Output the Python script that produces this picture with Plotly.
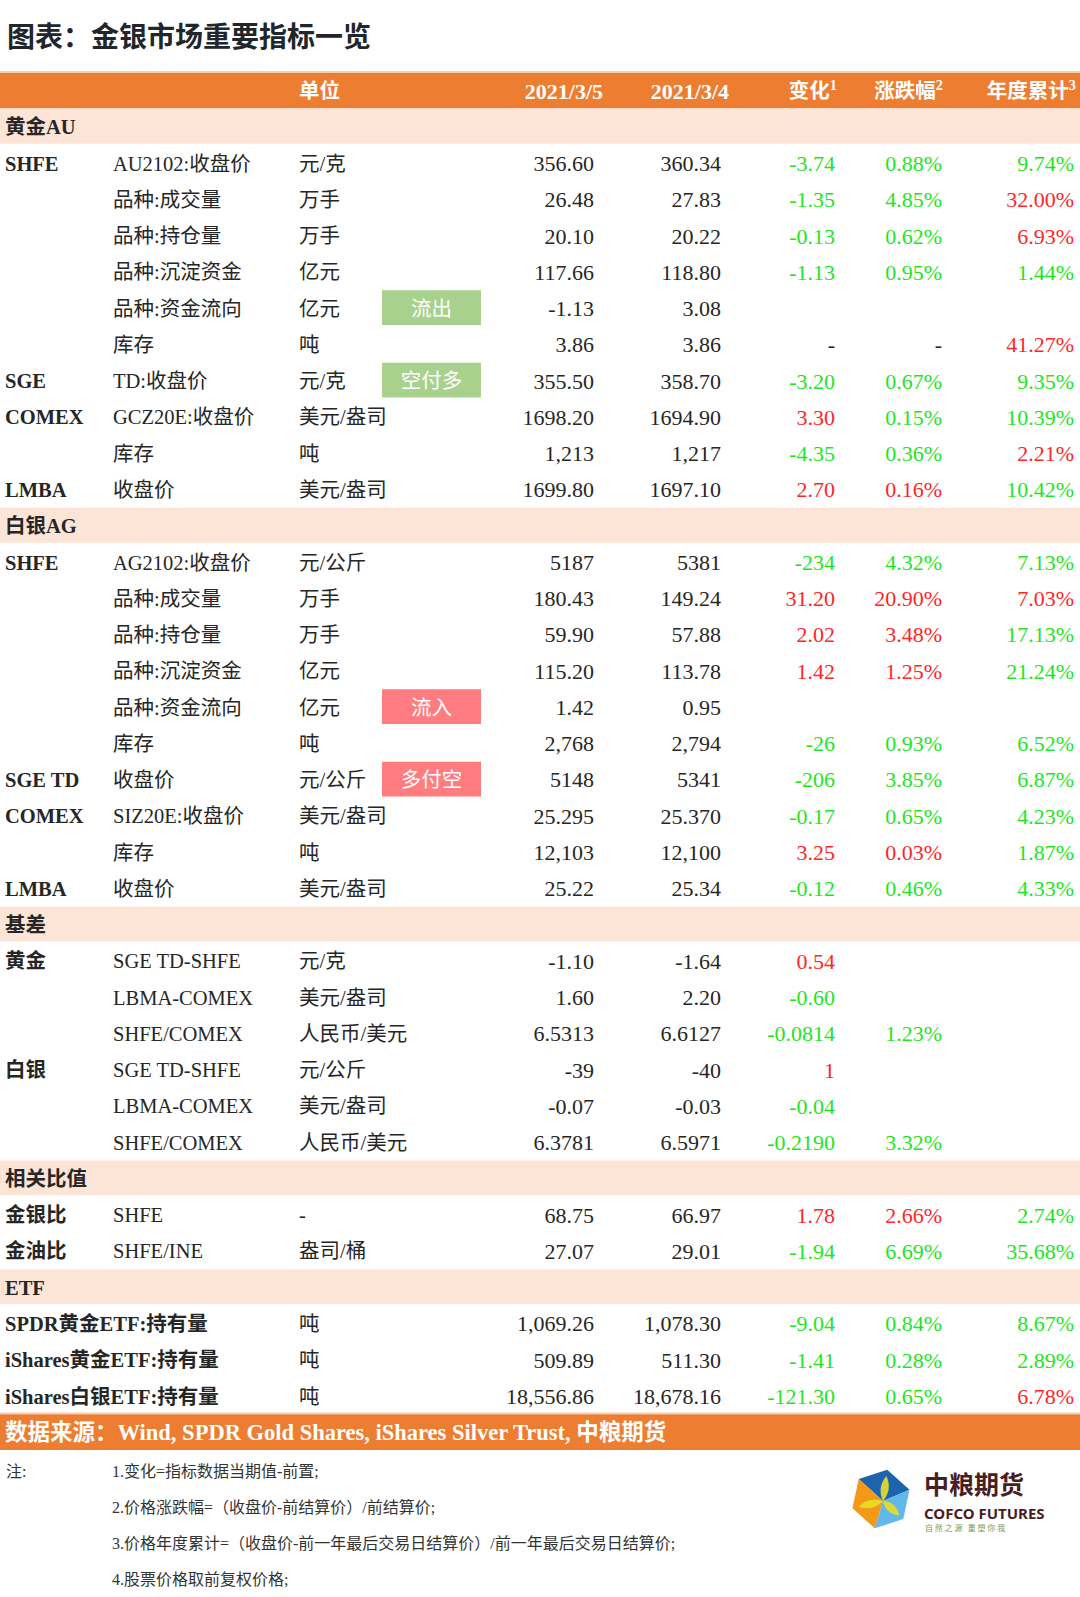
import math
import plotly.graph_objects as go

# ---------------- data ----------------
header_labels = ["", "", "单位", "", "2021/3/5", "2021/3/4",
                 "变化<sup>1</sup>", "涨跌幅<sup>2</sup>", "年度累计<sup>3</sup>"]

sections = ["黄金AU", "白银AG", "基差", "相关比值", "ETF"]
section_len = [10, 10, 6, 2, 3]

exchange = ["SHFE", "", "", "", "", "", "SGE", "COMEX", "", "LMBA",
            "SHFE", "", "", "", "", "", "SGE TD", "COMEX", "", "LMBA",
            "黄金", "", "", "白银", "", "",
            "金银比", "金油比",
            "SPDR黄金ETF:持有量", "iShares黄金ETF:持有量", "iShares白银ETF:持有量"]
item = ["AU2102:收盘价", "品种:成交量", "品种:持仓量", "品种:沉淀资金", "品种:资金流向", "库存",
        "TD:收盘价", "GCZ20E:收盘价", "库存", "收盘价",
        "AG2102:收盘价", "品种:成交量", "品种:持仓量", "品种:沉淀资金", "品种:资金流向", "库存",
        "收盘价", "SIZ20E:收盘价", "库存", "收盘价",
        "SGE TD-SHFE", "LBMA-COMEX", "SHFE/COMEX", "SGE TD-SHFE", "LBMA-COMEX", "SHFE/COMEX",
        "SHFE", "SHFE/INE",
        "", "", ""]
unit = ["元/克", "万手", "万手", "亿元", "亿元", "吨", "元/克", "美元/盎司", "吨", "美元/盎司",
        "元/公斤", "万手", "万手", "亿元", "亿元", "吨", "元/公斤", "美元/盎司", "吨", "美元/盎司",
        "元/克", "美元/盎司", "人民币/美元", "元/公斤", "美元/盎司", "人民币/美元",
        "-", "盎司/桶",
        "吨", "吨", "吨"]
signal = ["", "", "", "", "流出", "", "空付多", "", "", "",
          "", "", "", "", "流入", "", "多付空", "", "", "",
          "", "", "", "", "", "",
          "", "",
          "", "", ""]
val_0305 = ["356.60", "26.48", "20.10", "117.66", "-1.13", "3.86", "355.50", "1698.20", "1,213", "1699.80",
            "5187", "180.43", "59.90", "115.20", "1.42", "2,768", "5148", "25.295", "12,103", "25.22",
            "-1.10", "1.60", "6.5313", "-39", "-0.07", "6.3781",
            "68.75", "27.07",
            "1,069.26", "509.89", "18,556.86"]
val_0304 = ["360.34", "27.83", "20.22", "118.80", "3.08", "3.86", "358.70", "1694.90", "1,217", "1697.10",
            "5381", "149.24", "57.88", "113.78", "0.95", "2,794", "5341", "25.370", "12,100", "25.34",
            "-1.64", "2.20", "6.6127", "-40", "-0.03", "6.5971",
            "66.97", "29.01",
            "1,078.30", "511.30", "18,678.16"]
change = ["-3.74", "-1.35", "-0.13", "-1.13", "", "-", "-3.20", "3.30", "-4.35", "2.70",
          "-234", "31.20", "2.02", "1.42", "", "-26", "-206", "-0.17", "3.25", "-0.12",
          "0.54", "-0.60", "-0.0814", "1", "-0.04", "-0.2190",
          "1.78", "-1.94",
          "-9.04", "-1.41", "-121.30"]
change_tone = ["g", "g", "g", "g", "", "k", "g", "r", "g", "r",
               "g", "r", "r", "r", "", "g", "g", "g", "r", "g",
               "r", "g", "g", "r", "g", "g",
               "r", "g",
               "g", "g", "g"]
pct = ["0.88%", "4.85%", "0.62%", "0.95%", "", "-", "0.67%", "0.15%", "0.36%", "0.16%",
       "4.32%", "20.90%", "3.48%", "1.25%", "", "0.93%", "3.85%", "0.65%", "0.03%", "0.46%",
       "", "", "1.23%", "", "", "3.32%",
       "2.66%", "6.69%",
       "0.84%", "0.28%", "0.65%"]
pct_tone = ["g", "g", "g", "g", "", "k", "g", "g", "g", "r",
            "g", "r", "r", "r", "", "g", "g", "g", "r", "g",
            "", "", "g", "", "", "g",
            "r", "g",
            "g", "g", "g"]
ytd = ["9.74%", "32.00%", "6.93%", "1.44%", "", "41.27%", "9.35%", "10.39%", "2.21%", "10.42%",
       "7.13%", "7.03%", "17.13%", "21.24%", "", "6.52%", "6.87%", "4.23%", "1.87%", "4.33%",
       "", "", "", "", "", "",
       "2.74%", "35.68%",
       "8.67%", "2.89%", "6.78%"]
ytd_tone = ["g", "r", "r", "g", "", "r", "g", "g", "r", "g",
            "g", "r", "g", "g", "", "g", "g", "g", "g", "g",
            "", "", "", "", "", "",
            "g", "g",
            "g", "g", "r"]

title = "图表：金银市场重要指标一览"
source_text = "数据来源：Wind, SPDR Gold Shares, iShares Silver Trust, 中粮期货"
notes = ["1.变化=指标数据当期值-前置;",
         "2.价格涨跌幅=（收盘价-前结算价）/前结算价;",
         "3.价格年度累计=（收盘价-前一年最后交易日结算价）/前一年最后交易日结算价;",
         "4.股票价格取前复权价格;"]

# ---------------- style ----------------
FONT = "Liberation Serif, Noto Sans CJK SC, serif"
ORANGE = "#ED7D31"
PEACH = "#FCE4D6"
BOX_GREEN = "#A9D18E"
BOX_PINK = "#FF7C80"
TXT = "#262626"
TONE = {"g": "#1ee61e", "r": "#ff2626", "k": TXT, "": TXT}
SIGNAL_FILL = {"流出": BOX_GREEN, "空付多": BOX_GREEN, "流入": BOX_PINK, "多付空": BOX_PINK}

W, H = 1080, 1597
TOP_PX, ROW_PX = 72.0, 36.26        # table top and row height (page px)
X_EXCH, X_ITEM, X_UNIT = 5, 113, 299
BOX_X0, BOX_X1 = 382, 481
X_R = [594, 721, 835, 942, 1074]     # right edges of numeric columns
X_R_HEAD = [603, 729, 837, 943, 1076]
FS_TXT, FS_NUM, FS_HEAD_NUM, FS_SRC = 20.5, 22, 22, 22.5
TEXT_DY = 0.08                       # small downward nudge of text baseline (rows)

# ---------------- row layout ----------------
sec_rows, data_rows = [], []
r = 1
for n in section_len:
    sec_rows.append(r)
    r += 1
    data_rows.extend(range(r, r + n))
    r += n
source_row = r

fig = go.Figure()
shapes = []

# header & source bars
for rr in (0, source_row):
    shapes.append(dict(type="rect", xref="x", yref="y", x0=0, x1=W, y0=rr, y1=rr + 1,
                       fillcolor=ORANGE, line=dict(width=0), layer="below"))
    shapes.append(dict(type="line", xref="x", yref="y", x0=0, x1=W, y0=rr, y1=rr,
                       line=dict(color="#F8CBAD", width=2), layer="below"))
# section bands
for rr in sec_rows:
    shapes.append(dict(type="rect", xref="x", yref="y", x0=0, x1=W, y0=rr + 0.02, y1=rr + 0.98,
                       fillcolor=PEACH, line=dict(width=0), layer="below"))
# signal boxes
for rr, s in zip(data_rows, signal):
    if s:
        shapes.append(dict(type="rect", xref="x", yref="y", x0=BOX_X0, x1=BOX_X1,
                           y0=rr + 0.02, y1=rr + 0.98,
                           fillcolor=SIGNAL_FILL[s], line=dict(width=0), layer="below"))


def text_trace(x, rows, texts, pos, colors, size, bold=False):
    if isinstance(colors, str):
        colors = [colors] * len(texts)
    keep = [i for i, s in enumerate(texts) if s]
    t = [("<b>%s</b>" % texts[i]) if bold else texts[i] for i in keep]
    return go.Scatter(x=[x] * len(keep), y=[rows[i] + 0.5 + TEXT_DY for i in keep],
                      text=t, mode="text", textposition=pos,
                      textfont=dict(family=FONT, size=size, color=[colors[i] for i in keep]),
                      hoverinfo="skip", showlegend=False, cliponaxis=False)


# header
fig.add_trace(text_trace(X_UNIT, [0], [header_labels[2]], "middle right", "white", FS_TXT, True))
for k in range(5):
    fs = FS_HEAD_NUM if k < 2 else FS_TXT
    fig.add_trace(text_trace(X_R_HEAD[k], [0], [header_labels[4 + k]], "middle left", "white", fs, True))

# section titles
fig.add_trace(text_trace(X_EXCH, sec_rows, sections, "middle right", TXT, FS_TXT, True))

# body
fig.add_trace(text_trace(X_EXCH, data_rows, exchange, "middle right", TXT, FS_TXT, True))
fig.add_trace(text_trace(X_ITEM, data_rows, item, "middle right", TXT, FS_TXT))
fig.add_trace(text_trace(X_UNIT, data_rows, unit, "middle right", TXT, FS_TXT))
fig.add_trace(text_trace((BOX_X0 + BOX_X1) / 2, data_rows, signal, "middle center", "white", FS_TXT))
fig.add_trace(text_trace(X_R[0], data_rows, val_0305, "middle left", TXT, FS_NUM))
fig.add_trace(text_trace(X_R[1], data_rows, val_0304, "middle left", TXT, FS_NUM))
fig.add_trace(text_trace(X_R[2], data_rows, change, "middle left", [TONE[c] for c in change_tone], FS_NUM))
fig.add_trace(text_trace(X_R[3], data_rows, pct, "middle left", [TONE[c] for c in pct_tone], FS_NUM))
fig.add_trace(text_trace(X_R[4], data_rows, ytd, "middle left", [TONE[c] for c in ytd_tone], FS_NUM))

# source bar
fig.add_trace(text_trace(X_EXCH, [source_row], [source_text], "middle right", "white", FS_SRC, True))


def row_of(px):
    return (px - TOP_PX) / ROW_PX


annotations = []
annotations.append(dict(xref="x", yref="y", x=5, y=row_of(37), text="<b>%s</b>" % title,
                        xanchor="left", yanchor="middle", showarrow=False,
                        font=dict(family=FONT, size=28, color="#20262b")))
annotations.append(dict(xref="x", yref="y", x=4, y=row_of(1471), text="注:",
                        xanchor="left", yanchor="middle", showarrow=False,
                        font=dict(family=FONT, size=16, color="#333333")))
for i, t in enumerate(notes):
    annotations.append(dict(xref="x", yref="y", x=110, y=row_of(1471 + 36 * i), text=t,
                            xanchor="left", yanchor="middle", showarrow=False,
                            font=dict(family=FONT, size=16, color="#333333")))

# ---------------- logo (decoration) ----------------
cx, cy, R = 881.0, 1499.0, 30.0
rot = 12.0
V = []
for k in range(6):
    a = math.radians(-90 + 60 * k + rot)
    V.append((cx + R * math.cos(a), cy + R * math.sin(a)))


def path(pts):
    return "M " + " L ".join("%.2f,%.4f" % (x, row_of(y)) for x, y in pts) + " Z"


C = (cx + 2, cy + 2)
faces = [([C, V[5], V[0], V[1]], "#1e63ad"),
         ([C, V[1], V[2], V[3]], "#63b8ea"),
         ([C, V[3], V[4], V[5]], "#f29a16")]
for pts, col in faces:
    shapes.append(dict(type="path", xref="x", yref="y", path=path(pts),
                       fillcolor=col, line=dict(width=0)))


def lens(p0, p1, w):
    mx, my = (p0[0] + p1[0]) / 2, (p0[1] + p1[1]) / 2
    dx, dy = p1[0] - p0[0], p1[1] - p0[1]
    L = math.hypot(dx, dy)
    nx, ny = -dy / L * w, dx / L * w
    f = lambda x, y: "%.2f,%.4f" % (x, row_of(y))
    return ("M " + f(*p0) + " Q " + f(mx + nx, my + ny) + " " + f(*p1) +
            " Q " + f(mx - nx, my - ny) + " " + f(*p0) + " Z")


for tip in (V[0], V[2], V[4]):
    p1 = (C[0] + 0.8 * (tip[0] - C[0]), C[1] + 0.8 * (tip[1] - C[1]))
    shapes.append(dict(type="path", xref="x", yref="y", path=lens(C, p1, 8),
                       fillcolor="#e6df2a", line=dict(width=0), opacity=0.9))

annotations.append(dict(xref="x", yref="y", x=924, y=row_of(1501), text="<b>中粮期货</b>",
                        xanchor="left", yanchor="bottom", showarrow=False, borderpad=0, borderwidth=0,
                        font=dict(family="Noto Sans CJK SC", size=25, color="#4a1d22")))
annotations.append(dict(xref="x", yref="y", x=924, y=row_of(1503), text="<b>COFCO FUTURES</b>",
                        xanchor="left", yanchor="top", showarrow=False, borderpad=0, borderwidth=0,
                        font=dict(family="Noto Sans", size=15, color="#4a1d22")))
annotations.append(dict(xref="x", yref="y", x=925, y=row_of(1522), text="自 然 之 源   重 塑 你 我",
                        xanchor="left", yanchor="top", showarrow=False, borderpad=0, borderwidth=0,
                        font=dict(family="Noto Sans CJK SC", size=8, color="#7c9a4c")))

fig.update_layout(
    width=W, height=H,
    margin=dict(l=0, r=0, t=0, b=0),
    paper_bgcolor="white", plot_bgcolor="white",
    xaxis=dict(range=[0, W], visible=False, fixedrange=True),
    yaxis=dict(range=[row_of(H), row_of(0)], visible=False, fixedrange=True),
    shapes=shapes, annotations=annotations,
    showlegend=False,
)

fig.write_html("out.html", config={"displayModeBar": False},
               post_script="document.body.style.margin='0';")
